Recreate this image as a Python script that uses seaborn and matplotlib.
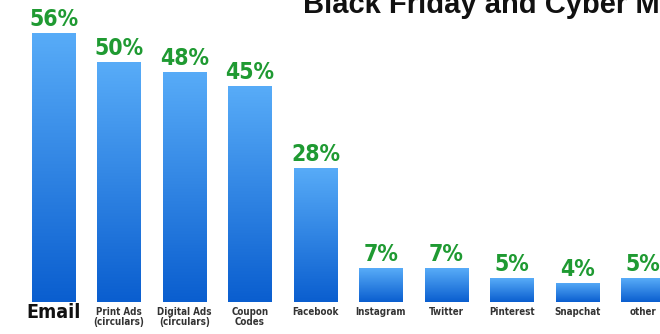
import numpy as np
import pandas as pd
import matplotlib
matplotlib.use("Agg")
import matplotlib.pyplot as plt
from matplotlib.colors import LinearSegmentedColormap
from matplotlib.transforms import ScaledTranslation
import seaborn as sns

categories = ["Email", "Print Ads\n(circulars)", "Digital Ads\n(circulars)", "Coupon\nCodes",
              "Facebook", "Instagram", "Twitter", "Pinterest", "Snapchat", "other"]
values = [56, 50, 48, 45, 28, 7, 7, 5, 4, 5]
value_labels = ["56%", "50%", "48%", "45%", "28%", "7%", "7%", "5%", "4%", "5%"]
title = "Black Friday and Cyber Monday"

df = pd.DataFrame({"channel": categories, "pct": values})

sns.set_theme(style="white")
plt.rcParams["font.family"] = ["DejaVu Sans"]

W, H = 660, 334
fig = plt.figure(figsize=(W / 100, H / 100), dpi=100)
base_px = 32  # bar baseline, px from bottom
ax = fig.add_axes([0, base_px / H, 1, 1 - base_px / H])

sns.barplot(data=df, x="channel", y="pct", ax=ax, width=0.66,
            color="#3d8ee8", saturation=1, edgecolor="none")

spacing = 65.5
x0 = -53.5 / spacing
ax.set_xlim(x0, x0 + W / spacing)
ax.set_ylim(0, (H - base_px) / 4.8)

cmap = LinearSegmentedColormap.from_list("g", ["#0a5ecf", "#58acf8"])
grad = np.linspace(0, 1, 256).reshape(-1, 1)
for p in list(ax.patches):
    x, y = p.get_x(), p.get_y()
    w, h = p.get_width(), p.get_height()
    im = ax.imshow(grad, extent=[x, x + w, y, y + h], origin="lower",
                   cmap=cmap, aspect="auto", zorder=p.get_zorder() + 0.1)
    im.set_clip_path(p)
ax.set_xlim(x0, x0 + W / spacing)
ax.set_ylim(0, (H - base_px) / 4.8)

for i, (v, lab) in enumerate(zip(values, value_labels)):
    ax.annotate(lab, (i, v), xytext=(0, 1.5), textcoords="offset points",
                ha="center", va="bottom", color="#1f9a32", fontsize=16.5,
                fontweight="heavy", fontstretch="condensed")

ax.set_xlabel("")
ax.set_ylabel("")
ax.set_yticks([])
ax.set_xticks(range(len(categories)))
ax.set_xticklabels(categories)
ax.tick_params(axis="x", length=0, pad=1)
shift = ScaledTranslation(0, -4 / 100, fig.dpi_scale_trans)
for i, tick in enumerate(ax.xaxis.get_major_ticks()):
    t = tick.label1
    t.set_fontweight("bold")
    t.set_fontstretch("condensed")
    t.set_va("top")
    t.set_linespacing(0.95)
    if i == 0:
        t.set_fontsize(14)
        t.set_color("#111111")
    else:
        t.set_fontsize(7)
        t.set_color("#333333")
        t.set_transform(t.get_transform() + shift)
for s in ax.spines.values():
    s.set_visible(False)

fig.text(303 / W, 1 - 13 / H, title, ha="left", va="baseline",
         fontsize=21, fontweight="bold", color="#111111",
         family=["Liberation Sans", "DejaVu Sans"])

fig.savefig("out.png", dpi=100)
